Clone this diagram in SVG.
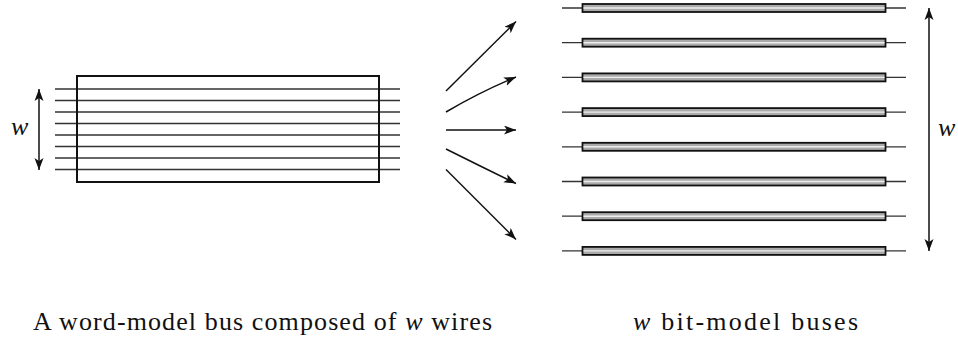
<svg xmlns="http://www.w3.org/2000/svg" width="958" height="341" viewBox="0 0 958 341">
<style>
.wire{stroke:#333;stroke-width:1.3;fill:none}
.box{stroke:#111;stroke-width:2;fill:none}
.arr{stroke:#111;stroke-width:1.5;fill:none;marker-end:url(#ah)}
.dbl{stroke:#111;stroke-width:1.5;fill:none;marker-end:url(#ah);marker-start:url(#ahs)}
.bus{stroke:#111;stroke-width:1.8;fill:#aaa}
.busc{stroke:#eee;stroke-width:1.4}
.lbl{fill:#111;font-size:26px;font-family:'Times New Roman','Liberation Serif','DejaVu Serif',Times,serif}
.it{font-style:italic}
</style>
<defs>
<marker id="ah" markerWidth="14" markerHeight="10" refX="12" refY="4.5" orient="auto" markerUnits="userSpaceOnUse">
<path d="M0,0 L12,4.5 L0,9 L3,4.5 Z" fill="#111"/>
</marker>
<marker id="ahs" markerWidth="14" markerHeight="10" refX="0" refY="4.5" orient="auto" markerUnits="userSpaceOnUse">
<path d="M12,0 L0,4.5 L12,9 L9,4.5 Z" fill="#111"/>
</marker>
</defs>
<g id="word-bus">
<g class="wire">
<line x1="55" y1="89" x2="400" y2="89"/>
<line x1="55" y1="100.5" x2="400" y2="100.5"/>
<line x1="55" y1="112" x2="400" y2="112"/>
<line x1="55" y1="123.5" x2="400" y2="123.5"/>
<line x1="55" y1="135" x2="400" y2="135"/>
<line x1="55" y1="146.5" x2="400" y2="146.5"/>
<line x1="55" y1="158" x2="400" y2="158"/>
<line x1="55" y1="169.5" x2="400" y2="169.5"/>
</g>
<rect class="box" x="77" y="76" width="302" height="106"/>
</g>
<g id="w-left">
<line class="dbl" x1="39" y1="89" x2="39" y2="170"/>
<text class="lbl it" x="11" y="135">w</text>
</g>
<g id="bit-buses">
<g id="bus1"><line class="wire" x1="562" y1="8" x2="906" y2="8"/><rect class="bus" x="582.5" y="4" width="303" height="8"/><line class="busc" x1="583.5" y1="8" x2="884.5" y2="8"/></g>
<g id="bus2"><line class="wire" x1="562" y1="42.7" x2="906" y2="42.7"/><rect class="bus" x="582.5" y="38.7" width="303" height="8"/><line class="busc" x1="583.5" y1="42.7" x2="884.5" y2="42.7"/></g>
<g id="bus3"><line class="wire" x1="562" y1="77.4" x2="906" y2="77.4"/><rect class="bus" x="582.5" y="73.4" width="303" height="8"/><line class="busc" x1="583.5" y1="77.4" x2="884.5" y2="77.4"/></g>
<g id="bus4"><line class="wire" x1="562" y1="112.1" x2="906" y2="112.1"/><rect class="bus" x="582.5" y="108.1" width="303" height="8"/><line class="busc" x1="583.5" y1="112.1" x2="884.5" y2="112.1"/></g>
<g id="bus5"><line class="wire" x1="562" y1="146.8" x2="906" y2="146.8"/><rect class="bus" x="582.5" y="142.8" width="303" height="8"/><line class="busc" x1="583.5" y1="146.8" x2="884.5" y2="146.8"/></g>
<g id="bus6"><line class="wire" x1="562" y1="181.5" x2="906" y2="181.5"/><rect class="bus" x="582.5" y="177.5" width="303" height="8"/><line class="busc" x1="583.5" y1="181.5" x2="884.5" y2="181.5"/></g>
<g id="bus7"><line class="wire" x1="562" y1="216.2" x2="906" y2="216.2"/><rect class="bus" x="582.5" y="212.2" width="303" height="8"/><line class="busc" x1="583.5" y1="216.2" x2="884.5" y2="216.2"/></g>
<g id="bus8"><line class="wire" x1="562" y1="250.9" x2="906" y2="250.9"/><rect class="bus" x="582.5" y="246.9" width="303" height="8"/><line class="busc" x1="583.5" y1="250.9" x2="884.5" y2="250.9"/></g>
</g>
<g id="w-right">
<line class="dbl" x1="929" y1="8" x2="929" y2="251"/>
<text class="lbl it" x="938" y="136">w</text>
</g>
<g id="connectors">
<line class="arr" x1="446" y1="91" x2="516" y2="21.5"/>
<path class="arr" d="M446,112 Q480,92 516,77"/>
<line class="arr" x1="446" y1="130" x2="516" y2="130"/>
<path class="arr" d="M446,149 Q480,166 516,183.5"/>
<line class="arr" x1="446" y1="169.5" x2="516" y2="239.5"/>
</g>
<g id="captions">
<text class="lbl" x="33" y="330" textLength="459" lengthAdjust="spacing">A word-model bus composed of <tspan class="it">w</tspan> wires</text>
<text class="lbl" x="633" y="330" textLength="225" lengthAdjust="spacing"><tspan class="it">w</tspan> bit-model buses</text>
</g>
</svg>
